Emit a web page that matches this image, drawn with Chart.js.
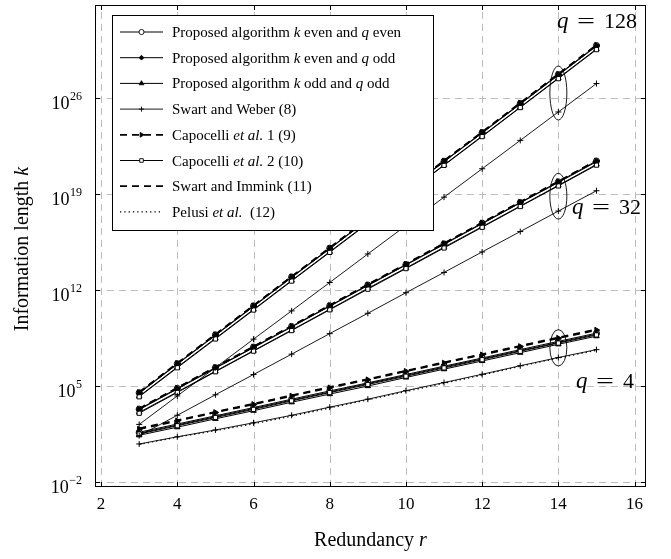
<!DOCTYPE html>
<html>
<head>
<meta charset="utf-8">
<script src="https://cdn.jsdelivr.net/npm/chart.js@4.4.1/dist/chart.umd.min.js"></script>
<style>
  html, body { margin: 0; padding: 0; background: #fff; }
</style>
</head>
<body>
<canvas id="chart" width="671" height="559"></canvas>
<script>
const redundancy = [3, 4, 5, 6, 7, 8, 9, 10, 11, 12, 13, 14, 15];
const xTicks = [2, 4, 6, 8, 10, 12, 14, 16];
const yTickExps = [-2, 5, 12, 19, 26];

// q = 4
const evenEvenQ4 = [43, 170, 680, 2.7e3, 1.1e4, 4.4e4, 1.7e5, 6.9e5, 2.8e6, 1.1e7, 4.5e7, 1.8e8, 7.1e8];
const evenOddQ4 = [36, 145, 580, 2.3e3, 9.3e3, 3.7e4, 1.5e5, 5.9e5, 2.4e6, 9.5e6, 3.8e7, 1.5e8, 6.1e8];
const oddOddQ4 = [26, 100, 410, 1.6e3, 6.6e3, 2.6e4, 1.0e5, 4.2e5, 1.7e6, 6.7e6, 2.7e7, 1.1e8, 4.3e8];
const swartWeberQ4 = [6, 20, 63, 210, 740, 2.9e3, 1.1e4, 4.6e4, 1.8e5, 7.2e5, 3.0e6, 1.2e7, 4.5e7];
const capocelli1Q4 = [73, 290, 1.2e3, 4.6e3, 1.9e4, 7.5e4, 2.9e5, 1.2e6, 4.8e6, 1.9e7, 7.7e7, 3.1e8, 1.2e9];
const capocelli2Q4 = [32, 128, 510, 2.0e3, 8.3e3, 3.3e4, 1.3e5, 5.2e5, 2.1e6, 8.3e6, 3.4e7, 1.35e8, 5.3e8];
const swartImminkQ4 = [82, 320, 1.3e3, 5.1e3, 2.1e4, 8.4e4, 3.2e5, 1.3e6, 5.3e6, 2.1e7, 8.6e7, 3.4e8, 1.35e9];
const pelusiQ4 = [5.6, 19, 56, 180, 630, 2.5e3, 1.0e4, 4.0e4, 1.6e5, 6.3e5, 2.8e6, 1.1e7, 4.0e7];

// q = 32
const evenEvenQ32 = [2.1e3, 6.8e4, 2.2e6, 6.9e7, 2.2e9, 7.1e10, 2.3e12, 7.2e13, 2.3e15, 7.4e16, 2.4e18, 7.6e19, 2.5e21];
const evenOddQ32 = [1.9e3, 6.1e4, 2.0e6, 6.2e7, 2.0e9, 6.4e10, 2.1e12, 6.5e13, 2.1e15, 6.7e16, 2.2e18, 6.8e19, 2.2e21];
const oddOddQ32 = [1.2e3, 3.7e4, 1.2e6, 3.8e7, 1.2e9, 3.9e10, 1.3e12, 4.0e13, 1.3e15, 4.1e16, 1.3e18, 4.2e19, 1.4e21];
const swartWeberQ32 = [24, 740, 2.3e4, 6.9e5, 2.1e7, 6.6e8, 2.0e10, 6.3e11, 1.9e13, 5.9e14, 1.8e16, 5.6e17, 1.7e19];
const capocelli1Q32 = [2.2e3, 7.1e4, 2.3e6, 7.2e7, 2.3e9, 7.4e10, 2.4e12, 7.5e13, 2.4e15, 7.7e16, 2.5e18, 7.9e19, 2.6e21];
const capocelli2Q32 = [1.05e3, 3.4e4, 1.1e6, 3.5e7, 1.1e9, 3.6e10, 1.15e12, 3.6e13, 1.15e15, 3.7e16, 1.2e18, 3.8e19, 1.25e21];
const swartImminkQ32 = [2.3e3, 7.4e4, 2.4e6, 7.5e7, 2.4e9, 7.7e10, 2.5e12, 7.8e13, 2.5e15, 8.0e16, 2.6e18, 8.2e19, 2.7e21];

// q = 128
const evenEvenQ128 = [3.3e4, 4.3e6, 5.4e8, 6.9e10, 8.9e12, 1.1e15, 1.4e17, 1.9e19, 2.4e21, 3.0e23, 3.9e25, 5.0e27, 6.5e29];
const evenOddQ128 = [3.0e4, 3.9e6, 4.9e8, 6.2e10, 8.0e12, 1.0e15, 1.3e17, 1.7e19, 2.2e21, 2.7e23, 3.5e25, 4.5e27, 5.8e29];
const oddOddQ128 = [1.8e4, 2.4e6, 3.0e8, 3.8e10, 4.9e12, 6.1e14, 7.7e16, 1.0e19, 1.3e21, 1.65e23, 2.1e25, 2.75e27, 3.6e29];
const swartWeberQ128 = [160, 1.9e4, 2.2e6, 2.6e8, 3.0e10, 3.5e12, 4.2e14, 4.9e16, 5.8e18, 6.8e20, 7.9e22, 9.3e24, 1.1e27];
const capocelli1Q128 = [3.4e4, 4.5e6, 5.6e8, 7.2e10, 9.3e12, 1.15e15, 1.45e17, 2.0e19, 2.5e21, 3.1e23, 4.1e25, 5.2e27, 6.8e29];
const capocelli2Q128 = [1.65e4, 2.15e6, 2.7e8, 3.45e10, 4.45e12, 5.5e14, 7.0e16, 9.5e18, 1.2e21, 1.5e23, 1.95e25, 2.5e27, 3.25e29];
const swartImminkQ128 = [3.5e4, 4.6e6, 5.8e8, 7.4e10, 9.5e12, 1.2e15, 1.5e17, 2.0e19, 2.6e21, 3.2e23, 4.2e25, 5.4e27, 7.0e29];

const legendLabels = [
  "Proposed algorithm $k$ even and $q$ even",
  "Proposed algorithm $k$ even and $q$ odd",
  "Proposed algorithm $k$ odd and $q$ odd",
  "Swart and Weber (8)",
  "Capocelli $et al.$ 1 (9)",
  "Capocelli $et al.$ 2 (10)",
  "Swart and Immink (11)",
  "Pelusi $et al.$  (12)",
];
const qValues = [4, 32, 128];

const FONT = '"Liberation Serif", "Times New Roman", serif';

// one style per legend entry
const styles = [
  { pointStyle: "circle", pointRadius: 3, pointBackgroundColor: "#fff", borderWidth: 1, borderDash: [] },
  { pointStyle: "rectRot", pointRadius: 2.8, pointBackgroundColor: "#000", borderWidth: 1, borderDash: [] },
  { pointStyle: "triangle", pointRadius: 3.2, pointBackgroundColor: "#000", borderWidth: 1, borderDash: [] },
  { pointStyle: "cross", pointRadius: 3, pointBackgroundColor: "#000", borderWidth: 0.9, borderDash: [] },
  { pointStyle: "triangle", pointRotation: 90, pointRadius: 3.2, pointBackgroundColor: "#000", borderWidth: 1.8, borderDash: [7, 5] },
  { pointStyle: "rect", pointRadius: 3, pointBackgroundColor: "#fff", borderWidth: 1, borderDash: [] },
  { pointStyle: false, pointRadius: 0, pointBackgroundColor: "#000", borderWidth: 1.8, borderDash: [7, 5] },
  { pointStyle: false, pointRadius: 0, pointBackgroundColor: "#000", borderWidth: 1.3, borderDash: [1.3, 3] },
];

const makeSet = (values, styleIdx, q) => {
  const s = styles[styleIdx];
  return {
    data: redundancy.map((r, i) => ({ x: r, y: values[i] })),
    borderColor: "#000",
    borderWidth: s.borderWidth,
    borderDash: s.borderDash,
    pointStyle: s.pointStyle,
    pointRadius: s.pointRadius,
    pointRotation: s.pointRotation || 0,
    pointBackgroundColor: s.pointBackgroundColor,
    pointBorderColor: "#000",
    pointBorderWidth: 1,
    fill: false,
    tension: 0,
    group: q,
  };
};

const datasets = [
  makeSet(pelusiQ4, 7, 4),
  makeSet(swartWeberQ4, 3, 4),
  makeSet(swartWeberQ32, 3, 32),
  makeSet(swartWeberQ128, 3, 128),
  makeSet(swartImminkQ4, 6, 4),
  makeSet(swartImminkQ32, 6, 32),
  makeSet(swartImminkQ128, 6, 128),
  makeSet(capocelli1Q4, 4, 4),
  makeSet(capocelli1Q32, 4, 32),
  makeSet(capocelli1Q128, 4, 128),
  makeSet(capocelli2Q4, 5, 4),
  makeSet(capocelli2Q32, 5, 32),
  makeSet(capocelli2Q128, 5, 128),
  makeSet(oddOddQ4, 2, 4),
  makeSet(oddOddQ32, 2, 32),
  makeSet(oddOddQ128, 2, 128),
  makeSet(evenOddQ4, 1, 4),
  makeSet(evenOddQ32, 1, 32),
  makeSet(evenOddQ128, 1, 128),
  makeSet(evenEvenQ4, 0, 4),
  makeSet(evenEvenQ32, 0, 32),
  makeSet(evenEvenQ128, 0, 128),
];

// text with $...$ parts in italic
const drawRich = (ctx, text, x, y, size) => {
  text.split("$").forEach((part, i) => {
    ctx.font = `${i % 2 ? "italic " : ""}${size}px ${FONT}`;
    ctx.fillText(part, x, y);
    x += ctx.measureText(part).width;
  });
  return x;
};
const richWidth = (ctx, text, size) => {
  let w = 0;
  text.split("$").forEach((part, i) => {
    ctx.font = `${i % 2 ? "italic " : ""}${size}px ${FONT}`;
    w += ctx.measureText(part).width;
  });
  return w;
};

const gridPlugin = {
  id: "grid",
  beforeDatasetsDraw(chart) {
    const { ctx, chartArea: a, scales: { x, y } } = chart;
    ctx.save();
    ctx.strokeStyle = "#bdbdbd";
    ctx.lineWidth = 1;
    ctx.setLineDash([7, 5]);
    xTicks.forEach((t) => {
      const px = Math.round(x.getPixelForValue(t)) + 0.5;
      ctx.beginPath();
      ctx.moveTo(px, a.bottom);
      ctx.lineTo(px, a.top);
      ctx.stroke();
    });
    yTickExps.forEach((e) => {
      const py = Math.round(y.getPixelForValue(Math.pow(10, e))) + 0.5;
      ctx.beginPath();
      ctx.moveTo(a.left, py);
      ctx.lineTo(a.right, py);
      ctx.stroke();
    });
    ctx.restore();
  },
};

const overlayPlugin = {
  id: "overlay",
  afterDatasetsDraw(chart) {
    const { ctx, scales: { x, y } } = chart;
    ctx.save();

    // ellipses round each group at r = 14
    const idx = redundancy.indexOf(14);
    qValues.forEach((q) => {
      const ys = chart.data.datasets
        .filter((d) => d.group === q)
        .map((d) => y.getPixelForValue(d.data[idx].y));
      const top = Math.min(...ys) - 8;
      const bottom = Math.max(...ys) + 8;
      ctx.beginPath();
      ctx.lineWidth = 0.9;
      ctx.strokeStyle = "#000";
      ctx.setLineDash([]);
      ctx.ellipse(x.getPixelForValue(14), (top + bottom) / 2, 8.5, (bottom - top) / 2, 0, 0, Math.PI * 2);
      ctx.stroke();
    });

    // q labels
    const qLabel = (value, left, base) => {
      ctx.fillStyle = "#000";
      ctx.textAlign = "left";
      ctx.textBaseline = "alphabetic";
      ctx.font = `italic 23px ${FONT}`;
      ctx.fillText("q", left, base);
      ctx.save();
      ctx.translate(left + 20, base);
      ctx.scale(1.45, 1);
      ctx.font = `22px ${FONT}`;
      ctx.fillText("=", 0, 0);
      ctx.restore();
      ctx.font = `22px ${FONT}`;
      ctx.fillText(String(value), left + 47, base);
    };
    qLabel(qValues[2], 557, 28);
    qLabel(qValues[1], 572, 214);
    qLabel(qValues[0], 576, 388);

    // legend box
    const bx = 112, by = 15, bw = 321, bh = 215, rowH = 25.7;
    ctx.fillStyle = "#fff";
    ctx.fillRect(bx, by, bw, bh);
    ctx.strokeStyle = "#000";
    ctx.lineWidth = 1;
    ctx.strokeRect(bx + 0.5, by + 0.5, bw, bh);
    legendLabels.forEach((label, i) => {
      const s = styles[i];
      const cy = by + 17 + i * rowH;
      ctx.strokeStyle = "#000";
      ctx.lineWidth = s.borderWidth;
      ctx.setLineDash(s.borderDash);
      ctx.beginPath();
      ctx.moveTo(120, cy);
      ctx.lineTo(163, cy);
      ctx.stroke();
      ctx.setLineDash([]);
      if (s.pointStyle) {
        ctx.fillStyle = s.pointBackgroundColor;
        ctx.lineWidth = 0.9;
        Chart.helpers.drawPoint(ctx, {
          pointStyle: s.pointStyle,
          radius: s.pointRadius * 0.85,
          rotation: s.pointRotation || 0,
          borderWidth: 0.9,
        }, 141.5, cy);
      }
      ctx.fillStyle = "#000";
      ctx.textBaseline = "alphabetic";
      ctx.textAlign = "left";
      drawRich(ctx, label, 172, cy + 5, 15);
    });

    ctx.restore();
  },
  afterDraw(chart) {
    const { ctx, chartArea: a, scales: { x, y } } = chart;
    ctx.save();
    ctx.strokeStyle = "#000";
    ctx.fillStyle = "#000";
    ctx.lineWidth = 1;
    ctx.setLineDash([]);

    // tick marks inside the frame
    xTicks.forEach((t) => {
      const px = Math.round(x.getPixelForValue(t)) + 0.5;
      ctx.beginPath();
      ctx.moveTo(px, a.bottom);
      ctx.lineTo(px, a.bottom - 5);
      ctx.moveTo(px, a.top);
      ctx.lineTo(px, a.top + 5);
      ctx.stroke();
    });
    yTickExps.forEach((e) => {
      const py = Math.round(y.getPixelForValue(Math.pow(10, e))) + 0.5;
      ctx.beginPath();
      ctx.moveTo(a.left, py);
      ctx.lineTo(a.left + 5, py);
      ctx.moveTo(a.right, py);
      ctx.lineTo(a.right - 5, py);
      ctx.stroke();
    });

    // frame
    ctx.strokeRect(a.left + 0.5, a.top + 0.5, a.right - a.left - 1, a.bottom - a.top - 1);

    // x tick labels
    ctx.font = `17px ${FONT}`;
    ctx.textAlign = "center";
    ctx.textBaseline = "alphabetic";
    xTicks.forEach((t) => {
      ctx.fillText(String(t), x.getPixelForValue(t), a.bottom + 22);
    });

    // y tick labels: 10 with superscript exponent
    yTickExps.forEach((e) => {
      const py = y.getPixelForValue(Math.pow(10, e));
      const expText = e < 0 ? "\u2212" + Math.abs(e) : String(e);
      ctx.textAlign = "left";
      ctx.font = `12px ${FONT}`;
      const ew = ctx.measureText(expText).width;
      ctx.font = `18px ${FONT}`;
      const bw = ctx.measureText("10").width;
      const right = a.left - 13;
      ctx.fillText("10", right - ew - bw - 0.5, py + 11);
      ctx.font = `12px ${FONT}`;
      ctx.fillText(expText, right - ew, py + 2);
    });

    // axis titles
    const xTitle = "Redundancy $r$";
    ctx.textAlign = "left";
    const xw = richWidth(ctx, xTitle, 20);
    drawRich(ctx, xTitle, (a.left + a.right) / 2 - xw / 2, 546, 20);

    const yTitle = "Information length $k$";
    const yw = richWidth(ctx, yTitle, 20);
    ctx.translate(28, (a.top + a.bottom) / 2 + 3);
    ctx.rotate(-Math.PI / 2);
    drawRich(ctx, yTitle, -yw / 2, 0, 20);

    ctx.restore();
  },
};

new Chart(document.getElementById("chart"), {
  type: "line",
  data: { datasets },
  options: {
    responsive: false,
    animation: false,
    layout: { padding: { left: 95, right: 25, top: 1, bottom: 72 } },
    plugins: { legend: { display: false }, tooltip: { enabled: false } },
    scales: {
      x: { type: "linear", min: 1.84, max: 16.3, display: false },
      y: { type: "logarithmic", min: 4.4e-3, max: 5.8e32, display: false },
    },
  },
  plugins: [gridPlugin, overlayPlugin],
});
</script>
</body>
</html>
